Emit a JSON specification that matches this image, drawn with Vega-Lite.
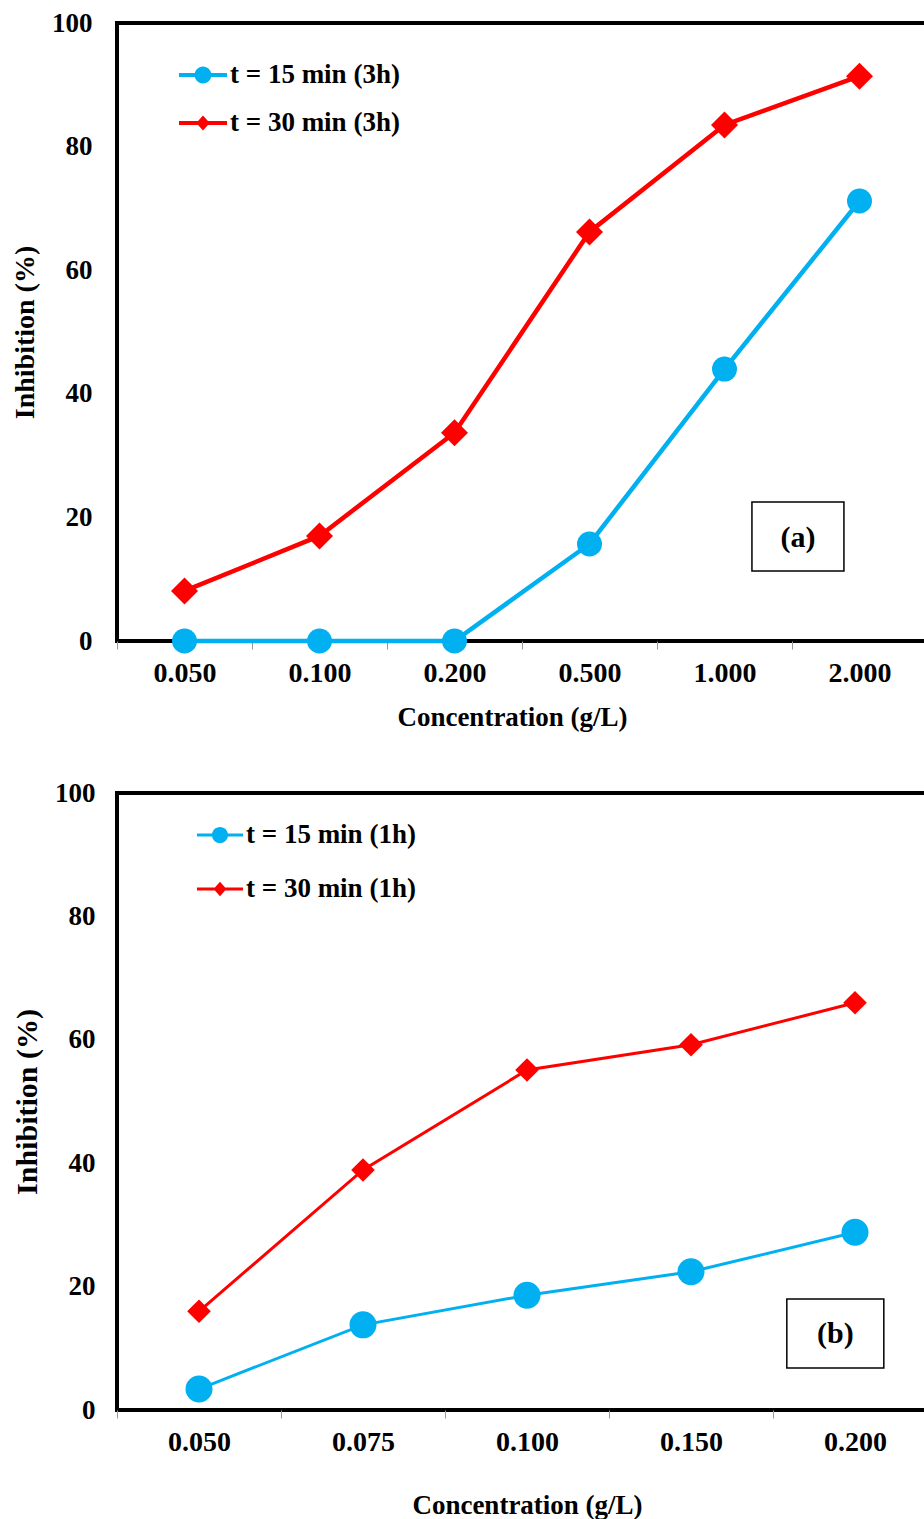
{
  "$schema": "https://vega.github.io/schema/vega-lite/v6.json",
  "padding": {"left": 9, "top": 7, "right": 0, "bottom": 0},
  "background": "white",
  "spacing": 45,
  "config": {
    "view": {"stroke": "black", "strokeWidth": 4},
    "font": "Liberation Serif",
    "axis": {"labelFont": "Liberation Serif", "labelFontWeight": "bold", "labelFontSize": 27, "labelColor": "black", "titleFont": "Liberation Serif", "titleFontWeight": "bold", "titleFontSize": 27, "titleColor": "black", "grid": false},
    "axisX": {"labelFontSize": 28},
    "legend": {"labelFont": "Liberation Serif", "labelFontWeight": "bold", "labelFontSize": 27, "labelColor": "black", "labelOffset": 3, "labelLimit": 500, "orient": "none", "symbolOpacity": 1}
  },
  "resolve": {"scale": {"color": "independent", "shape": "independent"}, "legend": {"shape": "independent", "color": "independent"}},
  "vconcat": [
    {
      "width": 810,
      "height": 618,
      "data": {"values": [
        {"conc": "0.050", "series": "t = 15 min (3h)", "inhibition": 0},
        {"conc": "0.100", "series": "t = 15 min (3h)", "inhibition": 0},
        {"conc": "0.200", "series": "t = 15 min (3h)", "inhibition": 0},
        {"conc": "0.500", "series": "t = 15 min (3h)", "inhibition": 15.7},
        {"conc": "1.000", "series": "t = 15 min (3h)", "inhibition": 44.0},
        {"conc": "2.000", "series": "t = 15 min (3h)", "inhibition": 71.2},
        {"conc": "0.050", "series": "t = 30 min (3h)", "inhibition": 8.1},
        {"conc": "0.100", "series": "t = 30 min (3h)", "inhibition": 17.0},
        {"conc": "0.200", "series": "t = 30 min (3h)", "inhibition": 33.7},
        {"conc": "0.500", "series": "t = 30 min (3h)", "inhibition": 66.2},
        {"conc": "1.000", "series": "t = 30 min (3h)", "inhibition": 83.5},
        {"conc": "2.000", "series": "t = 30 min (3h)", "inhibition": 91.4}
      ]},
      "encoding": {
        "x": {"field": "conc", "type": "ordinal", "title": "Concentration (g/L)",
              "scale": {"type": "band", "paddingInner": 0, "paddingOuter": 0},
              "axis": {"labelAngle": 0, "tickBand": "extent", "domain": false, "tickColor": "#999999", "tickSize": 8, "tickWidth": 1, "labelPadding": 10, "titlePadding": 17, "titleX": 395}},
        "y": {"field": "inhibition", "type": "quantitative", "title": "Inhibition (%)",
              "scale": {"domain": [0, 100], "nice": false},
              "axis": {"values": [0, 20, 40, 60, 80, 100], "ticks": false, "domain": false, "labelPadding": 25, "titlePadding": 12, "titleFontSize": 28}},
        "color": {"field": "series", "type": "nominal",
                  "scale": {"domain": ["t = 15 min (3h)", "t = 30 min (3h)"], "range": ["#00B0F0", "#FF0000"]},
                  "legend": {"title": null, "legendX": 62, "legendY": 28, "rowPadding": 11, "symbolSize": 2304, "symbolStrokeWidth": 0}}
      },
      "layer": [
        {
          "transform": [{"filter": "false"}],
          "mark": {"type": "point", "filled": true, "opacity": 1},
          "encoding": {
            "shape": {"field": "series", "type": "nominal",
                      "scale": {"domain": ["t = 15 min (3h)", "t = 30 min (3h)"],
                                "range": ["M-1,-0.08H1V0.08H-1ZM0.35,0A0.35,0.35,0,1,1,-0.35,0A0.35,0.35,0,1,1,0.35,0Z", "M-1,-0.08H1V0.08H-1ZM0,-0.31L0.28,0L0,0.31L-0.28,0Z"]},
                      "legend": {"title": null, "legendX": 62, "legendY": 28, "rowPadding": 11, "symbolSize": 2304, "symbolStrokeWidth": 0}}
          }
        },
        {
          "mark": {"type": "line", "strokeWidth": 4.5}
        },
        {
          "transform": [{"filter": {"field": "series", "equal": "t = 15 min (3h)"}}],
          "mark": {"type": "point", "filled": true, "opacity": 1, "shape": "circle", "size": 625}
        },
        {
          "transform": [{"filter": {"field": "series", "equal": "t = 30 min (3h)"}}],
          "mark": {"type": "point", "filled": true, "opacity": 1, "shape": "diamond", "size": 729}
        },
        {
          "data": {"values": [{"label": "(a)", "conc": "2.000", "inhibition": 16.9}]},
          "mark": {"type": "point", "shape": "M-1,-0.75H1V0.75H-1Z", "size": 8464, "filled": false, "color": "black", "strokeWidth": 1.5, "opacity": 1},
          "encoding": {
            "x": {"field": "conc", "type": "ordinal", "bandPosition": 0.044},
            "color": {"value": "black"}
          }
        },
        {
          "data": {"values": [{"label": "(a)", "conc": "2.000", "inhibition": 16.9}]},
          "mark": {"type": "text", "font": "Liberation Serif", "fontWeight": "bold", "fontSize": 30, "color": "black", "baseline": "middle", "align": "center", "dy": 1},
          "encoding": {
            "x": {"field": "conc", "type": "ordinal", "bandPosition": 0.044},
            "color": {"value": "black"},
            "text": {"field": "label"}
          }
        }
      ]
    },
    {
      "width": 820,
      "height": 617,
      "data": {"values": [
        {"conc": "0.050", "series": "t = 15 min (1h)", "inhibition": 3.4},
        {"conc": "0.075", "series": "t = 15 min (1h)", "inhibition": 13.8},
        {"conc": "0.100", "series": "t = 15 min (1h)", "inhibition": 18.6},
        {"conc": "0.150", "series": "t = 15 min (1h)", "inhibition": 22.4},
        {"conc": "0.200", "series": "t = 15 min (1h)", "inhibition": 28.8},
        {"conc": "0.050", "series": "t = 30 min (1h)", "inhibition": 16.0},
        {"conc": "0.075", "series": "t = 30 min (1h)", "inhibition": 38.9},
        {"conc": "0.100", "series": "t = 30 min (1h)", "inhibition": 55.1},
        {"conc": "0.150", "series": "t = 30 min (1h)", "inhibition": 59.2},
        {"conc": "0.200", "series": "t = 30 min (1h)", "inhibition": 66.0}
      ]},
      "encoding": {
        "x": {"field": "conc", "type": "ordinal", "title": "Concentration (g/L)",
              "scale": {"type": "band", "paddingInner": 0, "paddingOuter": 0},
              "axis": {"labelAngle": 0, "tickBand": "extent", "domain": false, "tickColor": "#999999", "tickSize": 8, "tickWidth": 1, "labelPadding": 10, "titlePadding": 36}},
        "y": {"field": "inhibition", "type": "quantitative", "title": "Inhibition (%)",
              "scale": {"domain": [0, 100], "nice": false},
              "axis": {"values": [0, 20, 40, 60, 80, 100], "ticks": false, "domain": false, "labelPadding": 22, "titlePadding": 12, "titleFontSize": 30}},
        "color": {"field": "series", "type": "nominal",
                  "scale": {"domain": ["t = 15 min (1h)", "t = 30 min (1h)"], "range": ["#00B0F0", "#FF0000"]},
                  "legend": {"title": null, "legendX": 80, "legendY": 19, "rowPadding": 18, "symbolSize": 2116, "symbolStrokeWidth": 0}}
      },
      "layer": [
        {
          "transform": [{"filter": "false"}],
          "mark": {"type": "point", "filled": true, "opacity": 1},
          "encoding": {
            "shape": {"field": "series", "type": "nominal",
                      "scale": {"domain": ["t = 15 min (1h)", "t = 30 min (1h)"],
                                "range": ["M-1,-0.07H1V0.07H-1ZM0.35,0A0.35,0.35,0,1,1,-0.35,0A0.35,0.35,0,1,1,0.35,0Z", "M-1,-0.07H1V0.07H-1ZM0,-0.31L0.28,0L0,0.31L-0.28,0Z"]},
                      "legend": {"title": null, "legendX": 80, "legendY": 19, "rowPadding": 18, "symbolSize": 2116, "symbolStrokeWidth": 0}}
          }
        },
        {
          "mark": {"type": "line", "strokeWidth": 3}
        },
        {
          "transform": [{"filter": {"field": "series", "equal": "t = 15 min (1h)"}}],
          "mark": {"type": "point", "filled": true, "opacity": 1, "shape": "circle", "size": 729}
        },
        {
          "transform": [{"filter": {"field": "series", "equal": "t = 30 min (1h)"}}],
          "mark": {"type": "point", "filled": true, "opacity": 1, "shape": "diamond", "size": 560}
        },
        {
          "data": {"values": [{"label": "(b)", "conc": "0.200", "inhibition": 12.4}]},
          "mark": {"type": "point", "shape": "M-1,-0.711H1V0.711H-1Z", "size": 9409, "filled": false, "color": "black", "strokeWidth": 1.5, "opacity": 1},
          "encoding": {
            "x": {"field": "conc", "type": "ordinal", "bandPosition": 0.38},
            "color": {"value": "black"}
          }
        },
        {
          "data": {"values": [{"label": "(b)", "conc": "0.200", "inhibition": 12.4}]},
          "mark": {"type": "text", "font": "Liberation Serif", "fontWeight": "bold", "fontSize": 30, "color": "black", "baseline": "middle", "align": "center", "dy": 1},
          "encoding": {
            "x": {"field": "conc", "type": "ordinal", "bandPosition": 0.38},
            "color": {"value": "black"},
            "text": {"field": "label"}
          }
        }
      ]
    }
  ]
}
